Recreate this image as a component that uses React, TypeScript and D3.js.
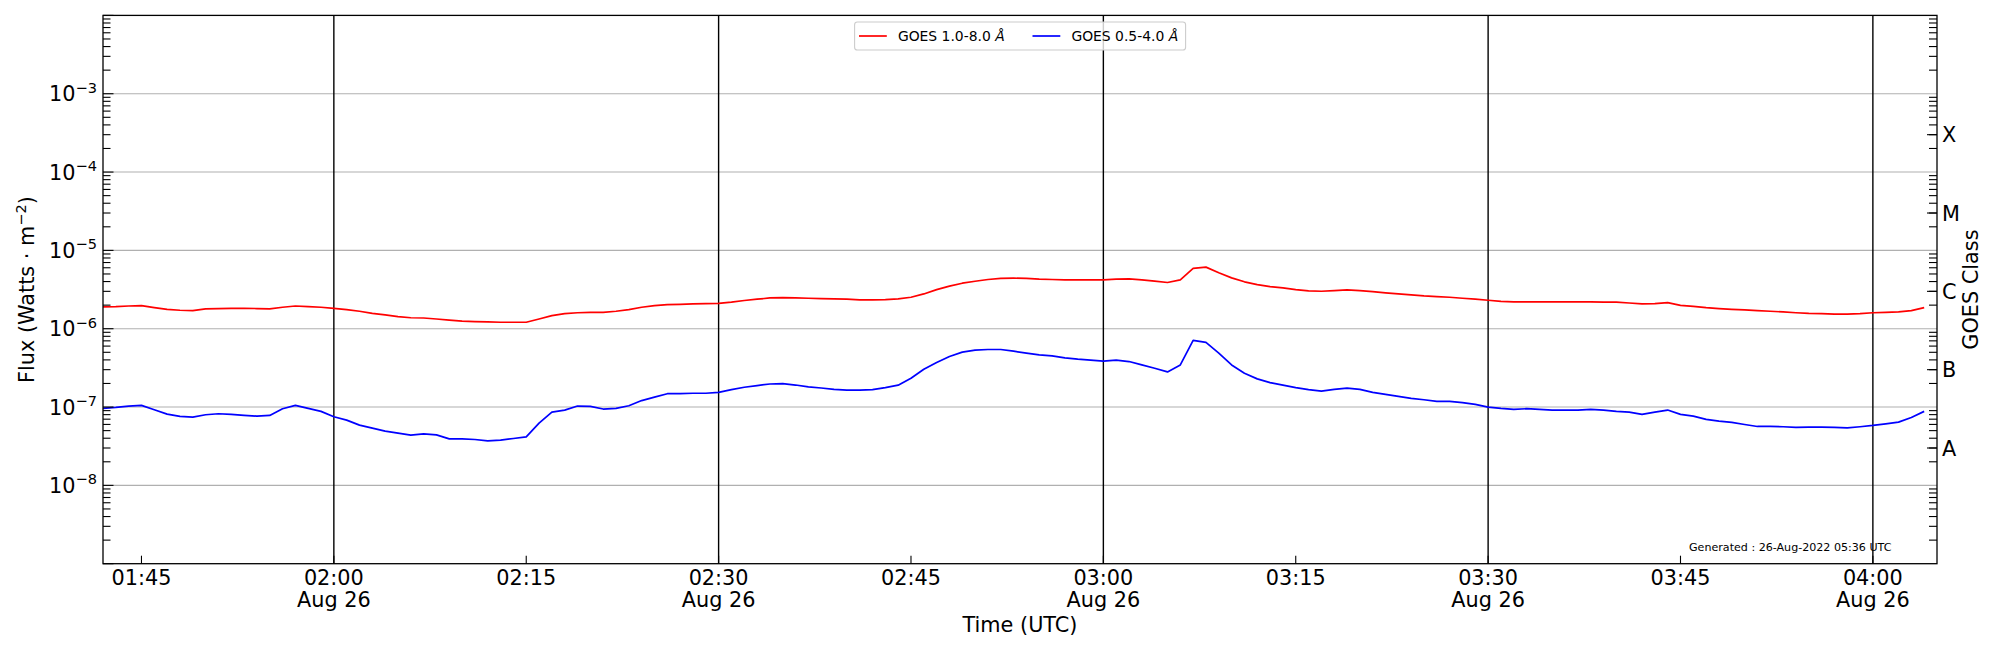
import React from "react";
import * as d3 from "d3";

// ---- data (1-minute GOES XRS samples, 26-Aug-2022 01:42 .. 04:04 UTC) ----
const startTime = "2022-08-26T01:42:00Z";
const cadenceMinutes = 1;

// GOES 1.0-8.0 Å (units of 1e-6 W/m^2)
const long18 = [
  1.90, 1.91, 1.95, 1.97, 1.86, 1.77, 1.72, 1.70, 1.79, 1.81, 1.82, 1.82, 1.81, 1.79, 1.88, 1.95, 1.91, 1.88,
  1.82, 1.75, 1.67, 1.57, 1.50, 1.43, 1.38, 1.37, 1.33, 1.29,
  1.25, 1.23, 1.22, 1.21, 1.21, 1.21, 1.33, 1.47, 1.56, 1.60,
  1.62, 1.62, 1.67, 1.75, 1.88, 1.97, 2.03, 2.05, 2.07, 2.09,
  2.11, 2.18, 2.29, 2.38, 2.47, 2.50, 2.47, 2.45, 2.42, 2.40,
  2.38, 2.33, 2.33, 2.35, 2.40, 2.52, 2.78, 3.16, 3.49, 3.81,
  4.04, 4.25, 4.38, 4.42, 4.38, 4.29, 4.25, 4.21, 4.21, 4.21,
  4.21, 4.29, 4.33, 4.21, 4.04, 3.89, 4.21, 5.88, 6.11, 5.17,
  4.46, 3.97, 3.66, 3.45, 3.32, 3.16, 3.04, 3.01, 3.07, 3.13,
  3.07, 2.98, 2.87, 2.78, 2.70, 2.62, 2.57, 2.52, 2.45, 2.38,
  2.31, 2.24, 2.20, 2.20, 2.20, 2.20, 2.20, 2.20, 2.20, 2.18,
  2.18, 2.13, 2.07, 2.09, 2.15, 1.99, 1.93, 1.86, 1.81, 1.77,
  1.74, 1.70, 1.67, 1.64, 1.60, 1.57, 1.56, 1.54, 1.54, 1.56,
  1.60, 1.62, 1.64, 1.70, 1.86,
];

// GOES 0.5-4.0 Å (units of 1e-7 W/m^2)
const short05 = [
  0.961, 0.990, 1.03, 1.05, 0.924, 0.813, 0.759, 0.744, 0.797, 0.821, 0.805, 0.782, 0.766, 0.782, 0.952, 1.05, 0.961, 0.880,
  0.752, 0.681, 0.588, 0.538, 0.492, 0.464, 0.438, 0.455, 0.442, 0.393,
  0.393, 0.385, 0.370, 0.378, 0.397, 0.417, 0.623, 0.863, 0.915, 1.03,
  1.02, 0.943, 0.961, 1.04, 1.21, 1.34, 1.48, 1.48, 1.50, 1.50,
  1.54, 1.67, 1.79, 1.88, 1.97, 1.99, 1.91, 1.81, 1.75, 1.68,
  1.64, 1.64, 1.67, 1.77, 1.90, 2.33, 3.04, 3.70, 4.42, 5.02,
  5.33, 5.43, 5.43, 5.17, 4.88, 4.64, 4.51, 4.25, 4.09, 3.97,
  3.85, 3.97, 3.81, 3.45, 3.13, 2.81, 3.45, 7.09, 6.68, 4.88,
  3.45, 2.70, 2.29, 2.05, 1.90, 1.77, 1.67, 1.60, 1.68, 1.74,
  1.68, 1.54, 1.45, 1.37, 1.29, 1.24, 1.18, 1.18, 1.14, 1.08,
  1.00, 0.961, 0.934, 0.952, 0.934, 0.915, 0.915, 0.915, 0.934, 0.915,
  0.880, 0.863, 0.805, 0.863, 0.915, 0.805, 0.766, 0.695, 0.661, 0.636,
  0.599, 0.565, 0.565, 0.560, 0.549, 0.554, 0.554, 0.549, 0.543, 0.560,
  0.582, 0.611, 0.642, 0.737, 0.880,
];

const xDomain = ["2022-08-26T01:42:00Z", "2022-08-26T04:05:00Z"];
const xTicks = ["01:45", "02:00", "02:15", "02:30", "02:45", "03:00", "03:15", "03:30", "03:45", "04:00"];
const dateTicks = ["02:00", "02:30", "03:00", "03:30", "04:00"];
const dateLabel = "Aug 26";
const vLines = ["02:00", "02:30", "03:00", "03:30", "04:00"];
const yDomain = [1e-9, 1e-2];
const yTickExps = [-8, -7, -6, -5, -4, -3];
const classLabels = ["A", "B", "C", "M", "X"];
const classValues = [3e-8, 3e-7, 3e-6, 3e-5, 3e-4];
const seriesNames = ["GOES 1.0-8.0 ", "GOES 0.5-4.0 "];
const seriesColors = ["#ff0000", "#0000ff"];
const generatedText = "Generated : 26-Aug-2022 05:36 UTC";

const FONT = "DejaVu Sans, sans-serif";

const L = 103, R = 1937, T = 15.4, B = 563.7;

const t0 = new Date(startTime).getTime();
const toDate = (hm: string) => new Date(`2022-08-26T${hm}:00Z`);

export default function App() {
  const x = d3.scaleUtc().domain(xDomain.map((s) => new Date(s))).range([L, R]);
  const y = d3.scaleLog().domain(yDomain).range([B, T]);

  const mk = (vals: number[], unit: number) =>
    vals.map((v, i) => ({ t: new Date(t0 + i * cadenceMinutes * 60000), v: v * unit }));
  const dLong = mk(long18, 1e-6);
  const dShort = mk(short05, 1e-7);
  const line = d3
    .line<{ t: Date; v: number }>()
    .x((d) => x(d.t))
    .y((d) => y(d.v));

  const minorVals: number[] = [];
  for (let e = -9; e < -2; e++) for (let k = 2; k <= 9; k++) minorVals.push(k * Math.pow(10, e));
  const majorVals = d3.range(-9, -1).map((e) => Math.pow(10, e));

  const tickFs = 20.8;
  const legFs = 13.9;

  return (
    <svg
      width={2000}
      height={650}
      style={{ position: "absolute", left: 0, top: 0, background: "#fff" }}
      fontFamily={FONT}
    >
      <rect x={0} y={0} width={2000} height={650} fill="#fff" />
      {/* horizontal grid */}
      {yTickExps.map((e) => (
        <line key={"g" + e} x1={L} x2={R} y1={y(Math.pow(10, e))} y2={y(Math.pow(10, e))} stroke="#b0b0b0" strokeWidth={1.1} />
      ))}
      {/* vertical lines */}
      {vLines.map((hm) => (
        <line key={"v" + hm} x1={x(toDate(hm))} x2={x(toDate(hm))} y1={T} y2={B} stroke="#000" strokeWidth={1.4} />
      ))}
      {/* data */}
      <path d={line(dLong) || ""} fill="none" stroke={seriesColors[0]} strokeWidth={1.7} strokeLinejoin="round" />
      <path d={line(dShort) || ""} fill="none" stroke={seriesColors[1]} strokeWidth={1.7} strokeLinejoin="round" />

      {/* left ticks */}
      {minorVals.map((v, i) => (
        <line key={"lm" + i} x1={L} x2={L + 7.5} y1={y(v)} y2={y(v)} stroke="#000" strokeWidth={1.1} />
      ))}
      {majorVals.map((v, i) => (
        <line key={"lM" + i} x1={L} x2={L + 10.5} y1={y(v)} y2={y(v)} stroke="#000" strokeWidth={1.1} />
      ))}
      {/* right ticks */}
      {minorVals.map((v, i) => (
        <line key={"rm" + i} x1={R} x2={R - 8} y1={y(v)} y2={y(v)} stroke="#000" strokeWidth={1.1} />
      ))}
      {classValues.map((v, i) => (
        <line key={"rM" + i} x1={R} x2={R - 10} y1={y(v)} y2={y(v)} stroke="#000" strokeWidth={1.1} />
      ))}
      {/* bottom ticks */}
      {xTicks.map((hm) => (
        <line key={"bt" + hm} x1={x(toDate(hm))} x2={x(toDate(hm))} y1={B} y2={B - 8} stroke="#000" strokeWidth={1.1} />
      ))}

      {/* spines */}
      <rect x={L} y={T} width={R - L} height={B - T} fill="none" stroke="#000" strokeWidth={1.3} />

      {/* y tick labels */}
      {yTickExps.map((e) => (
        <text key={"yl" + e} x={97} y={y(Math.pow(10, e)) + 7.6} textAnchor="end" fontSize={tickFs} fill="#000">
          10
          <tspan fontSize={tickFs * 0.7} dy={-8.5}>
            {"\u2212" + Math.abs(e)}
          </tspan>
        </text>
      ))}
      {/* class labels */}
      {classLabels.map((c, i) => (
        <text key={"c" + c} x={1942} y={y(classValues[i]) + 7.6} fontSize={tickFs} fill="#000">
          {c}
        </text>
      ))}
      {/* x tick labels */}
      {xTicks.map((hm) => (
        <text key={"xl" + hm} x={x(toDate(hm))} y={584.5} textAnchor="middle" fontSize={tickFs} fill="#000">
          {hm}
        </text>
      ))}
      {dateTicks.map((hm) => (
        <text key={"xd" + hm} x={x(toDate(hm))} y={607} textAnchor="middle" fontSize={tickFs} fill="#000">
          {dateLabel}
        </text>
      ))}

      {/* axis labels */}
      <text x={(L + R) / 2} y={632} textAnchor="middle" fontSize={tickFs} fill="#000">
        Time (UTC)
      </text>
      <text transform={`translate(34,${(T + B) / 2}) rotate(-90)`} textAnchor="middle" fontSize={tickFs} fill="#000">
        Flux (Watts {"\u00b7"} m
        <tspan fontSize={tickFs * 0.7} dy={-8.5}>
          {"\u22122"}
        </tspan>
        <tspan dy={8.5}>)</tspan>
      </text>
      <text transform={`translate(1978,${(T + B) / 2}) rotate(-90)`} textAnchor="middle" fontSize={tickFs} fill="#000">
        GOES Class
      </text>

      {/* legend */}
      <rect x={854.6} y={22} width={331} height={28} rx={2.8} fill="#fff" fillOpacity={0.8} stroke="#cccccc" strokeWidth={1.1} />
      {seriesNames.map((n, i) => {
        const hx = i === 0 ? 859 : 1032.5;
        return (
          <g key={"leg" + i}>
            <line x1={hx} x2={hx + 27.8} y1={36} y2={36} stroke={seriesColors[i]} strokeWidth={1.7} />
            <text x={hx + 38.9} y={41} fontSize={legFs} fill="#000">
              {n}
              <tspan fontStyle="italic">Å</tspan>
            </text>
          </g>
        );
      })}

      {/* generated */}
      <text x={1689} y={550.5} fontSize={11.1} fill="#000">
        {generatedText}
      </text>
    </svg>
  );
}
